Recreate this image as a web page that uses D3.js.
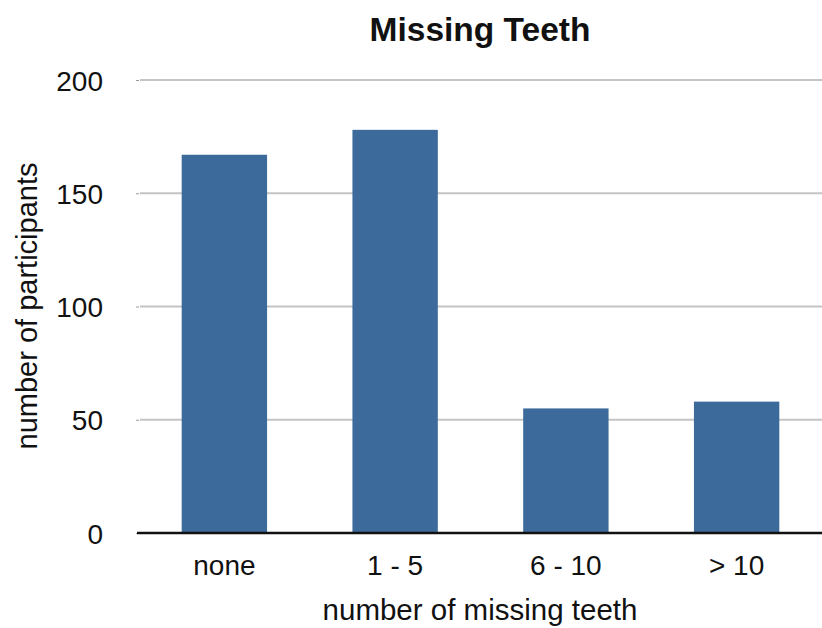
<!DOCTYPE html>
<html><head><meta charset="utf-8">
<script src="https://cdn.jsdelivr.net/npm/d3@7"></script>
<style>body{margin:0;background:#fff}svg{display:block}text{font-family:"Liberation Sans",Arial,Helvetica,sans-serif}</style>
</head><body>
<svg id="c" width="822" height="628"></svg>
<script>
const categories = ["none", "1 - 5", "6 - 10", "> 10"];
const values = [167, 178, 55, 58];
const yTicks = [0, 50, 100, 150, 200];
const title = "Missing Teeth";
const xTitle = "number of missing teeth";
const yTitle = "number of participants";

const svg = d3.select("#c");
const mLeft = 139, mRight = 822, mTop = 80, mBottom = 533;
const x = d3.scaleBand().domain(categories).range([mLeft, mRight]).paddingInner(0.5).paddingOuter(0.25);
const y = d3.scaleLinear().domain([0, 200]).range([mBottom, mTop]);

// gridlines
svg.append("g").selectAll("line").data(yTicks.filter(d => d > 0)).join("line")
  .attr("x1", mLeft + 1).attr("x2", mRight).attr("y1", d => y(d)).attr("y2", d => y(d))
  .attr("stroke", "#c4c4c4").attr("stroke-width", 2);

// y axis ticks & labels
const ya = svg.append("g").attr("transform", `translate(${mLeft},0)`)
  .call(d3.axisLeft(y).tickValues(yTicks).tickSize(3).tickPadding(33).tickFormat(d3.format("d")));
ya.select(".domain").remove();
ya.selectAll(".tick line").attr("stroke", "#999");
ya.selectAll("text").attr("font-size", 28).attr("fill", "#111").attr("dy", "0.36em");

// bars
svg.append("g").selectAll("rect").data(values).join("rect")
  .attr("x", (d, i) => x(categories[i])).attr("width", x.bandwidth())
  .attr("y", d => y(d)).attr("height", d => y(0) - y(d))
  .attr("fill", "#3c6a9b");

// x axis
const xa = svg.append("g").attr("transform", `translate(0,${mBottom})`)
  .call(d3.axisBottom(x).tickSize(0).tickPadding(22));
xa.select(".domain").remove();
xa.selectAll("text").attr("font-size", 28).attr("fill", "#111").attr("dy", "0.71em");
svg.append("line").attr("x1", mLeft - 2).attr("x2", mRight).attr("y1", mBottom).attr("y2", mBottom)
  .attr("stroke", "#111").attr("stroke-width", 2.5);

// titles
svg.append("text").attr("x", 480).attr("y", 41).attr("text-anchor", "middle")
  .attr("font-size", 33.5).attr("font-weight", "bold").attr("fill", "#111").text(title);
svg.append("text").attr("x", 480).attr("y", 620).attr("text-anchor", "middle")
  .attr("font-size", 29.5).attr("fill", "#111").text(xTitle);
svg.append("text").attr("transform", "translate(37,306) rotate(-90)").attr("text-anchor", "middle")
  .attr("font-size", 29).attr("fill", "#111").text(yTitle);
</script>
</body></html>
